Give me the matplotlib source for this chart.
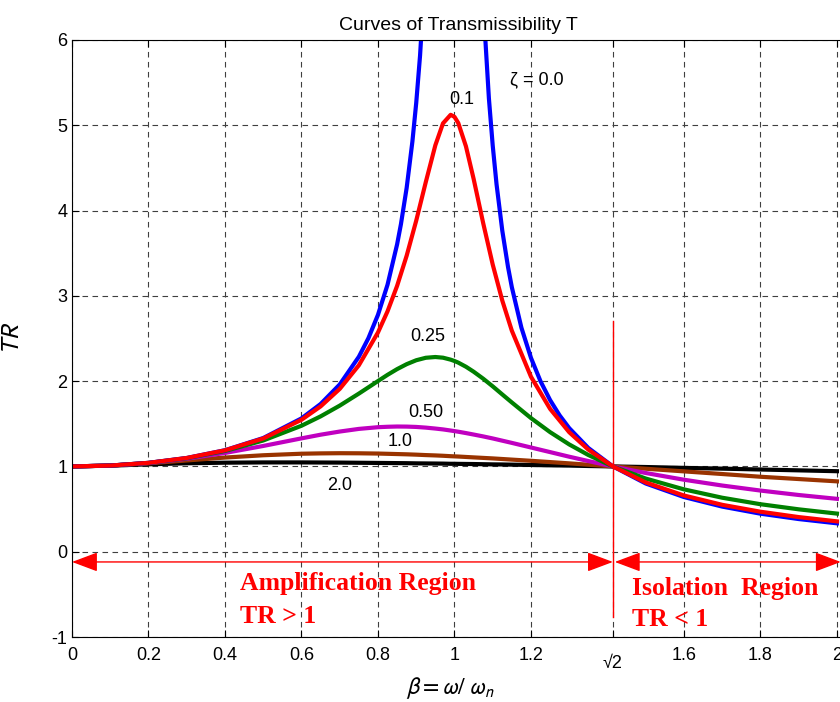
import numpy as np
import matplotlib
matplotlib.use("Agg")
import matplotlib.pyplot as plt
import matplotlib.transforms as mtransforms

# frequency ratio beta = w / wn
beta = [0, 0.1, 0.2, 0.3, 0.4, 0.5, 0.6, 0.65, 0.7, 0.75, 0.8, 0.825, 0.85,
        0.875, 0.9, 0.925, 0.95, 0.97, 0.99, 1.0, 1.01, 1.03, 1.05, 1.075,
        1.1, 1.125, 1.15, 1.2, 1.25, 1.3, 1.35, 1.414, 1.5, 1.6, 1.7, 1.8,
        1.9, 2.0]

# undamped curve is steep, so it is read at more points
beta_00 = [0, 0.1, 0.2, 0.3, 0.4, 0.5, 0.6, 0.65, 0.7, 0.75, 0.775, 0.8,
           0.825, 0.85, 0.86, 0.875, 0.89, 0.9, 0.91, 0.925, 0.95, 0.97, 0.99,
           1.0, 1.01, 1.03, 1.05, 1.075, 1.09, 1.1, 1.11, 1.125, 1.14, 1.15,
           1.175, 1.2, 1.225, 1.25, 1.275, 1.3, 1.35, 1.414, 1.5, 1.6, 1.7,
           1.8, 1.9, 2.0]
tr_00 = [1.000, 1.010, 1.042, 1.099, 1.190, 1.333, 1.563, 1.732, 1.961, 2.286,
         2.504, 2.778, 3.131, 3.604, 3.840, 4.267, 4.810, 5.263, 5.817, 6.926,
         10.26, 16.9, 50.3, np.nan, 49.8, 16.4, 9.76, 6.43, 5.316, 4.762,
         4.308, 3.765, 3.338, 3.101, 2.627, 2.273, 1.998, 1.778, 1.598, 1.449,
         1.216, 1.001, 0.800, 0.641, 0.529, 0.446, 0.383, 0.333]
tr_01 = [1.000, 1.010, 1.042, 1.099, 1.189, 1.328, 1.547, 1.704, 1.909, 2.186,
         2.571, 2.819, 3.117, 3.471, 3.882, 4.334, 4.766, 5.023, 5.123, 5.099,
         5.026, 4.753, 4.373, 3.854, 3.367, 2.945, 2.591, 2.052, 1.675, 1.401,
         1.197, 1.001, 0.812, 0.659, 0.550, 0.469, 0.406, 0.356]
tr_025 = [1.000, 1.010, 1.041, 1.096, 1.181, 1.304, 1.477, 1.587, 1.713, 1.854,
          2.001, 2.074, 2.141, 2.199, 2.245, 2.274, 2.283, 2.275, 2.252, 2.236,
          2.217, 2.169, 2.111, 2.029, 1.939, 1.844, 1.750, 1.567, 1.402, 1.258,
          1.134, 1.000, 0.858, 0.731, 0.633, 0.557, 0.497, 0.447]
tr_05 = [1.000, 1.010, 1.040, 1.090, 1.158, 1.240, 1.329, 1.372, 1.409, 1.440,
         1.460, 1.465, 1.468, 1.467, 1.463, 1.455, 1.444, 1.434, 1.421, 1.414,
         1.407, 1.391, 1.374, 1.352, 1.328, 1.302, 1.276, 1.222, 1.168, 1.114,
         1.063, 1.000, 0.923, 0.844, 0.776, 0.717, 0.665, 0.620]
tr_10 = [1.000, 1.010, 1.036, 1.070, 1.104, 1.131, 1.149, 1.153, 1.155, 1.154,
         1.151, 1.148, 1.145, 1.142, 1.138, 1.133, 1.129, 1.125, 1.120, 1.118,
         1.116, 1.111, 1.106, 1.100, 1.094, 1.087, 1.080, 1.066, 1.051, 1.036,
         1.020, 1.000, 0.973, 0.942, 0.911, 0.879, 0.852, 0.825]
tr_20 = [1.000, 1.009, 1.025, 1.037, 1.044, 1.047, 1.047, 1.046, 1.045, 1.043,
         1.041, 1.040, 1.039, 1.038, 1.036, 1.035, 1.034, 1.033, 1.031, 1.031,
         1.030, 1.029, 1.028, 1.026, 1.024, 1.023, 1.021, 1.017, 1.013, 1.010,
         1.005, 1.000, 0.993, 0.983, 0.974, 0.964, 0.954, 0.944]

xtick_labels = ['0', '0.2', '0.4', '0.6', '0.8', '1', '1.2', '√2', '1.6', '1.8', '2']

plt.rcParams['font.family'] = ['Liberation Sans', 'DejaVu Sans']
plt.rcParams['mathtext.fontset'] = 'stixsans'
plt.rcParams['axes.unicode_minus'] = False

fig = plt.figure(figsize=(8.4, 7.02), dpi=100)
ax = fig.add_axes([72 / 840, 65 / 702, 772.6 / 840, 597 / 702])

# draw order: heavy damping first, light damping on top
curves = [(beta, tr_20, 'black'), (beta, tr_10, '#993300'),
          (beta, tr_05, '#c000c0'), (beta, tr_025, '#008000'),
          (beta_00, tr_00, 'blue'), (beta, tr_01, 'red')]
for xs, vals, col in curves:
    ax.plot(xs, vals, color=col, lw=3, solid_joinstyle='round')

r2 = np.sqrt(2)
ax.set_xlim(0, 2.02)
ax.set_ylim(-1, 6)
ax.set_xticks([0, 0.2, 0.4, 0.6, 0.8, 1.0, 1.2, r2, 1.6, 1.8, 2.0])
ax.set_xticklabels(xtick_labels)
ax.set_yticks(range(-1, 7))
ax.tick_params(direction='in', labelsize=13, length=5, top=True)
ax.tick_params(axis='x', pad=7)
ax.grid(True, color='0.25', linestyle=(0, (5, 4)), linewidth=0.8)

# the sqrt(2) label sits a bit lower than the others
lab = ax.get_xticklabels()[7]
lab.set_transform(lab.get_transform() +
                  mtransforms.ScaledTranslation(0, -8 / 100, fig.dpi_scale_trans))

ax.set_title('Curves of Transmissibility T', fontsize=14, pad=7)
ax.set_ylabel('$TR$', fontsize=18)
ax.yaxis.set_label_coords(-0.062, 0.5)
ax.set_xlabel(r'$\beta = \omega /\ \omega_n$', fontsize=17)
ax.xaxis.set_label_coords(0.49, -0.065)

# damping labels
ax.text(1.214, 5.53, 'ζ = 0.0', fontsize=13, ha='center', va='center')
ax.text(1.02, 5.30, '0.1', fontsize=13, ha='center', va='center')
ax.text(0.929, 2.52, '0.25', fontsize=13, ha='center', va='center')
ax.text(0.925, 1.633, '0.50', fontsize=13, ha='center', va='center')
ax.text(0.857, 1.293, '1.0', fontsize=13, ha='center', va='center')
ax.text(0.70, 0.777, '2.0', fontsize=13, ha='center', va='center')

# regions
ax.plot([r2, r2], [-0.77, 2.7], color='red', lw=1)
arrow = dict(arrowstyle='<|-|>,head_length=0.8,head_width=0.3', color='red',
             lw=1, shrinkA=0, shrinkB=0, mutation_scale=20)
ax.annotate('', xy=(0, -0.12), xytext=(r2, -0.12), arrowprops=arrow)
ax.annotate('', xy=(r2 + 0.005, -0.12), xytext=(2.01, -0.12), arrowprops=arrow)

serif = dict(family='Liberation Serif', fontweight='bold', color='red', fontsize=18.5)
ax.text(0.44, -0.45, 'Amplification Region', **serif)
ax.text(0.44, -0.83, 'TR > 1', **serif)
ax.text(1.464, -0.51, 'Isolation  Region', **serif)
ax.text(1.464, -0.87, 'TR < 1', **serif)

fig.savefig('out.png', dpi=100)
